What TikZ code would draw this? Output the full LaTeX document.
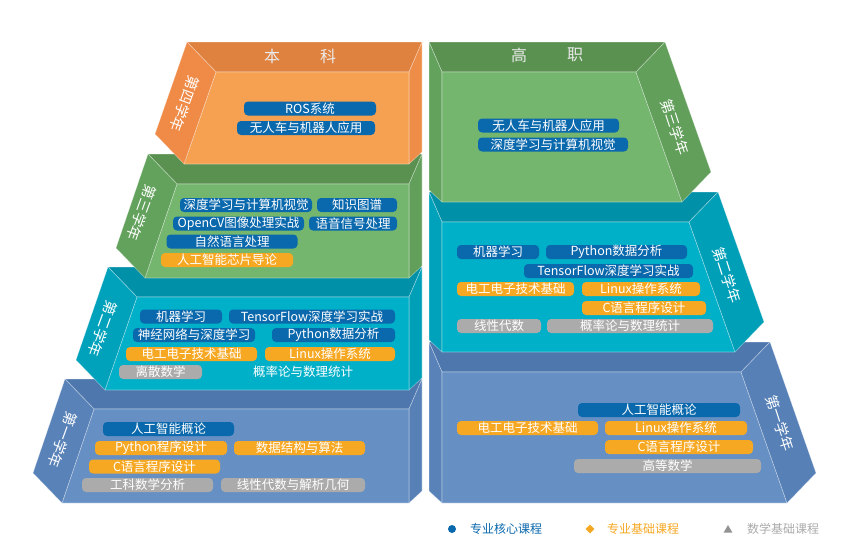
\documentclass[tikz,border=0pt]{standalone}
\usepackage{fontspec}
\setmainfont{Noto Sans CJK SC}
\newfontfamily\cjk{Noto Sans CJK SC}
\usetikzlibrary{shapes.geometric}
\definecolor{coreblue}{HTML}{0A68AC}
\definecolor{baseor}{HTML}{F7A823}
\definecolor{mathgr}{HTML}{ABABAB}
\definecolor{oTop}{HTML}{DF823F}
\definecolor{oLeft}{HTML}{EF8B47}
\definecolor{oFront}{HTML}{F6A151}
\definecolor{oRight}{HTML}{EE8D48}
\definecolor{gTop}{HTML}{5A9150}
\definecolor{gLeft}{HTML}{62A25C}
\definecolor{gFront}{HTML}{74B66E}
\definecolor{gRight}{HTML}{629F5B}
\definecolor{tTop}{HTML}{0090A8}
\definecolor{tLeft}{HTML}{00A2BB}
\definecolor{tFront}{HTML}{00B0C8}
\definecolor{tRight}{HTML}{009FB8}
\definecolor{bTop}{HTML}{4E77AD}
\definecolor{bLeft}{HTML}{5882B8}
\definecolor{bFront}{HTML}{6690C4}
\definecolor{bRight}{HTML}{5680B6}
\tikzset{
  face/.style={draw=white, draw opacity=0.4, line width=0.6pt, line join=round},
  pill/.style={rounded corners=4pt, minimum height=14pt, inner sep=0pt, text=white,
    font=\cjk\fontsize{12.5}{13}\selectfont},
  core/.style={pill, fill=coreblue},
  basec/.style={pill, fill=baseor},
  mathc/.style={pill, fill=mathgr},
  plaintext/.style={inner sep=0pt, text=white, font=\cjk\fontsize{12.5}{13}\selectfont},
  yearlab/.style={inner sep=0pt, text=white, font=\cjk\fontsize{14.5}{15}\selectfont},
  headlab/.style={inner sep=0pt, text=white!92!black, font=\cjk\fontsize{16}{16}\selectfont},
  legtext/.style={inner sep=0pt, anchor=west, font=\cjk\fontsize{12}{12}\selectfont},
}
% left block: #1=bx, #2=by, #3=yb, #4 top, #5 left, #6 front, #7 right
\newcommand\lblock[7]{%
  \fill[#4,face] (#1,#2) -- (422,#2) -- (409,{#2+30}) -- ({#1+29},{#2+30}) -- cycle;
  \fill[#7,face] (422,#2) -- (409,{#2+30}) -- (409,#3) -- (422,{#3-12}) -- cycle;
  \fill[#6,face] ({#1+29},{#2+30}) -- (409,{#2+30}) -- (409,#3) -- ({#1-3},#3) -- cycle;
  \fill[#5,face] (#1,#2) -- ({#1+29},{#2+30}) -- ({#1-3},#3) -- ({#1-32},{#3-30}) -- cycle;
}
% right block: #1=xr, #2=by, #3=yb, #4 top, #5 left, #6 front, #7 right
\newcommand\rblock[7]{%
  \fill[#4,face] (429,#2) -- (#1,#2) -- ({#1-29},{#2+30}) -- (442,{#2+30}) -- cycle;
  \fill[#5,face] (429,#2) -- (442,{#2+30}) -- (442,#3) -- (429,{#3-12}) -- cycle;
  \fill[#6,face] (442,{#2+30}) -- ({#1-29},{#2+30}) -- ({#1+17},#3) -- (442,#3) -- cycle;
  \fill[#7,face] (#1,#2) -- ({#1+46},{#3-30}) -- ({#1+17},#3) -- ({#1-29},{#2+30}) -- cycle;
}
\begin{document}
\begin{tikzpicture}[x=1pt,y=-1pt]
\useasboundingbox[fill=white] (0,0) rectangle (850,554);
% ---------- left column (本科) ----------
\lblock{65}{379}{503}{bTop}{bLeft}{bFront}{bRight}
\lblock{108}{267}{390}{tTop}{tLeft}{tFront}{tRight}
\lblock{148}{154}{278}{gTop}{gLeft}{gFront}{gRight}
\lblock{187}{42}{164}{oTop}{oLeft}{oFront}{oRight}
% ---------- right column (高职) ----------
\rblock{770}{342}{503}{bTop}{bLeft}{bFront}{bRight}
\rblock{718}{192}{352}{tTop}{tLeft}{tFront}{tRight}
\rblock{665}{42}{202}{gTop}{gLeft}{gFront}{gRight}
% ---------- headings ----------
\node[headlab] (hb1) at (272,56) {本};
\node[headlab] (hb2) at (328,56) {科};
\node[headlab] (hg1) at (519,55) {高};
\node[headlab] (hg2) at (575,55) {职};
% ---------- year labels ----------
\node[yearlab, rotate=-110] (ly4) at (185,104) {第四学年};
\node[yearlab, rotate=-110] (ly3) at (142,213) {第三学年};
\node[yearlab, rotate=-110] (ly2) at (103,329) {第二学年};
\node[yearlab, rotate=-110] (ly1) at (63,440) {第一学年};
\node[yearlab, rotate=-72] (ry3) at (675,127) {第三学年};
\node[yearlab, rotate=-72] (ry2) at (727,275) {第二学年};
\node[yearlab, rotate=-72] (ry1) at (780,423) {第一学年};
% ---------- 本科 第四学年 ----------
\node[core, minimum width=132pt] (a41) at (310,108.5) {ROS系统};
\node[core, minimum width=138pt] (a42) at (306,128) {无人车与机器人应用};
% ---------- 本科 第三学年 ----------
\node[core, minimum width=132pt] (a31) at (246,205) {深度学习与计算机视觉};
\node[core, minimum width=80pt] (a32) at (357,205) {知识图谱};
\node[core, minimum width=131pt] (a33) at (238.5,223.5) {OpenCV图像处理实战};
\node[core, minimum width=88pt] (a34) at (353,223.5) {语音信号处理};
\node[core, minimum width=131pt] (a35) at (232,241.5) {自然语言处理};
\node[basec, minimum width=132pt] (a36) at (227,260) {人工智能芯片导论};
% ---------- 本科 第二学年 ----------
\node[core, minimum width=82pt] (a21) at (181,316.5) {机器学习};
\node[core, minimum width=166pt] (a22) at (312,316.5) {TensorFlow深度学习实战};
\node[core, minimum width=122pt] (a23) at (194,335) {神经网络与深度学习};
\node[core, minimum width=123pt] (a24) at (333.5,335) {Python数据分析};
\node[basec, minimum width=131pt] (a25) at (191.5,354) {电工电子技术基础};
\node[basec, minimum width=130pt] (a26) at (330,354) {Linux操作系统};
\node[mathc, minimum width=83pt] (a27) at (160.5,372) {离散数学};
\node[plaintext] (a28) at (303,372) {概率论与数理统计};
% ---------- 本科 第一学年 ----------
\node[core, minimum width=131pt] (a11) at (168.5,429) {人工智能概论};
\node[basec, minimum width=132pt] (a12) at (161,448) {Python程序设计};
\node[basec, minimum width=131pt] (a13) at (299.5,448) {数据结构与算法};
\node[basec, minimum width=131pt] (a14) at (154.5,466.5) {C语言程序设计};
\node[mathc, minimum width=131pt] (a15) at (147.5,485) {工科数学分析};
\node[mathc, minimum width=144pt] (a16) at (293,485) {线性代数与解析几何};
% ---------- 高职 第三学年 ----------
\node[core, minimum width=141pt] (b31) at (548.5,125.5) {无人车与机器人应用};
\node[core, minimum width=150pt] (b32) at (553,144.5) {深度学习与计算机视觉};
% ---------- 高职 第二学年 ----------
\node[core, minimum width=82pt] (b21) at (498,252) {机器学习};
\node[core, minimum width=141pt] (b22) at (616.5,252) {Python数据分析};
\node[core, minimum width=169pt] (b23) at (608.5,271) {TensorFlow深度学习实战};
\node[basec, minimum width=117pt] (b24) at (515.5,289) {电工电子技术基础};
\node[basec, minimum width=118pt] (b25) at (641,289) {Linux操作系统};
\node[basec, minimum width=124pt] (b26) at (644,308) {C语言程序设计};
\node[mathc, minimum width=84pt] (b27) at (499,326) {线性代数};
\node[mathc, minimum width=166pt] (b28) at (630,326) {概率论与数理统计};
% ---------- 高职 第一学年 ----------
\node[core, minimum width=162pt] (b11) at (659,410) {人工智能概论};
\node[basec, minimum width=141pt] (b12) at (527.5,428) {电工电子技术基础};
\node[basec, minimum width=142pt] (b13) at (676,428) {Linux操作系统};
\node[basec, minimum width=148pt] (b14) at (679,447) {C语言程序设计};
\node[mathc, minimum width=187pt] (b15) at (667.5,466) {高等数学};
% ---------- legend ----------
\node[circle, fill=coreblue, minimum size=8pt, inner sep=0pt] (lm1) at (452,529) {};
\node[legtext, text=coreblue] (lt1) at (470,529) {专业核心课程};
\node[diamond, fill=baseor, minimum size=9pt, inner sep=0pt] (lm2) at (590,529) {};
\node[legtext, text=baseor] (lt2) at (607,529) {专业基础课程};
\node[regular polygon, regular polygon sides=3, fill=gray!85, minimum size=10pt, inner sep=0pt] (lm3) at (728,530) {};
\node[legtext, text=mathgr] (lt3) at (747,529) {数学基础课程};
\end{tikzpicture}
\end{document}
